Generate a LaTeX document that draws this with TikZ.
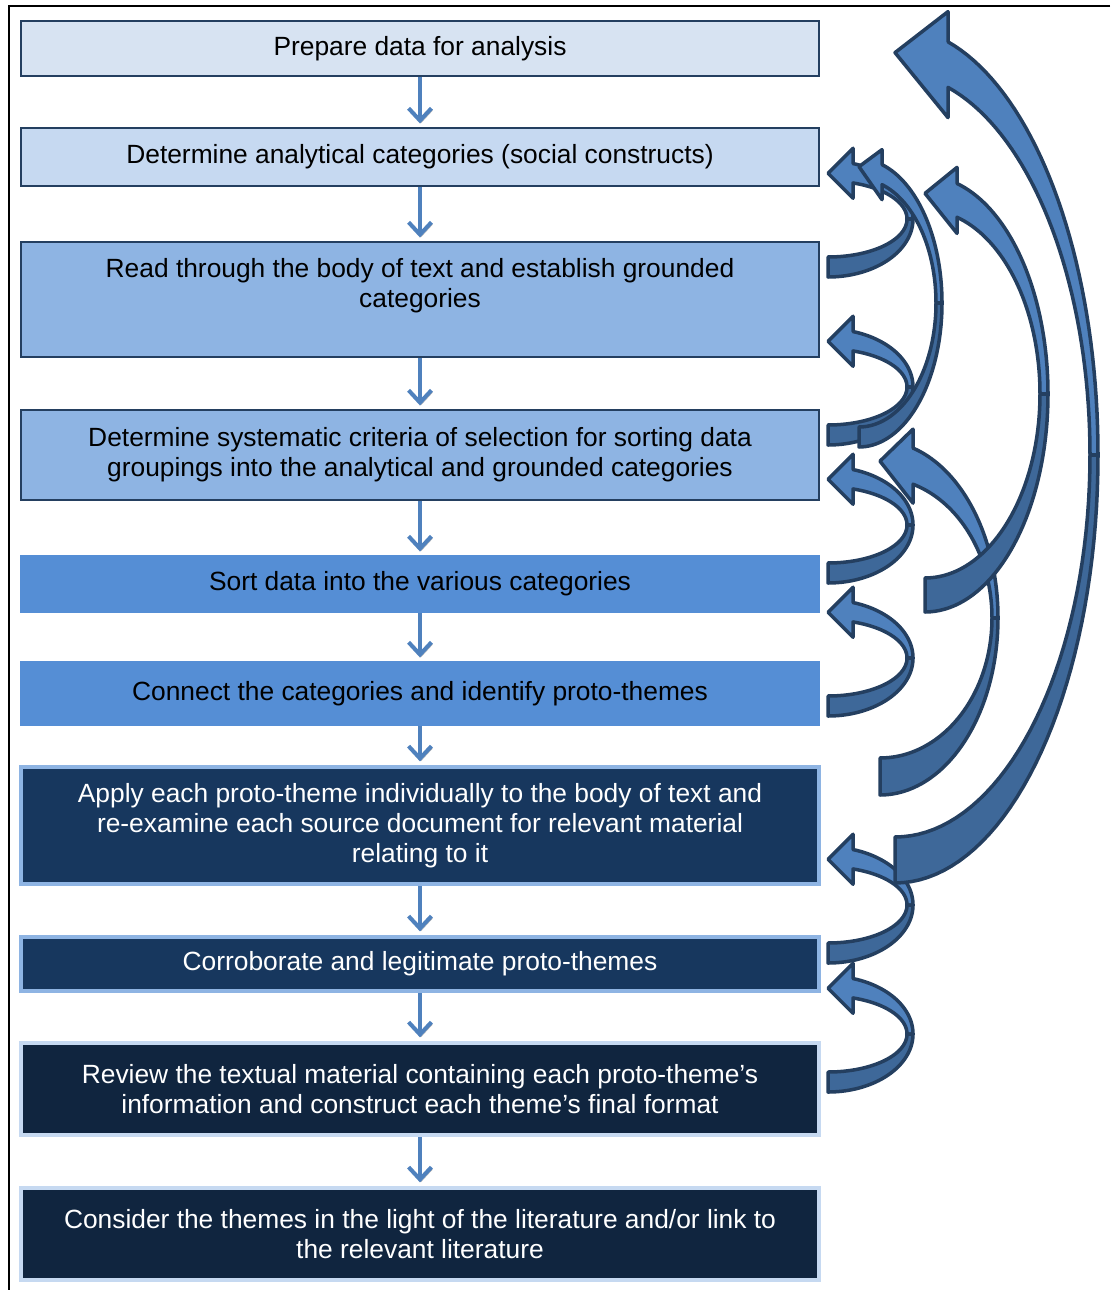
\documentclass[tikz,border=0pt]{standalone}
\usepackage{fontspec}
\setmainfont{Liberation Sans}
\usetikzlibrary{arrows.meta}
\definecolor{navy}{RGB}{36,63,96}
\definecolor{pale-blue}{RGB}{215,227,242}
\definecolor{light-blue}{RGB}{198,217,241}
\definecolor{mid-blue}{RGB}{142,180,227}
\definecolor{bright-blue}{RGB}{85,142,213}
\definecolor{deep-blue}{RGB}{23,55,94}
\definecolor{dark-blue}{RGB}{16,37,63}
\definecolor{arrow-blue}{RGB}{79,129,189}
\definecolor{shade-blue}{RGB}{62,104,153}

% curved feedback arrow: cx, cy, outer rx, outer ry, inner rx, inner ry, head length, head half width, tip lift
\newcommand{\bendarrow}[9]{%
  \pgfmathsetmacro{\baTo}{-acos(#7/#3)}%
  \pgfmathsetmacro{\baTi}{-acos(#7/#5)}%
  \pgfmathsetmacro{\baYo}{#2+#4*sin(\baTo)}%
  \pgfmathsetmacro{\baYi}{#2+#6*sin(\baTi)}%
  \pgfmathsetmacro{\baYm}{(\baYo+\baYi)/2}%
  \filldraw[bandfront] ({#1+#7},\baYo)
    -- plot[domain=\baTo:0,samples=40] ({#1+#3*cos(\x)},{#2+#4*sin(\x)})
    -- plot[domain=0:\baTi,samples=40] ({#1+#5*cos(\x)},{#2+#6*sin(\x)})
    -- ({#1+#7},{\baYm+#8}) -- (#1,{\baYm-#9}) -- ({#1+#7},{\baYm-#8}) -- cycle;
  \filldraw[bandback] ({#1+#3},#2)
    -- plot[domain=0:90,samples=40] ({#1+#3*cos(\x)},{#2+#4*sin(\x)})
    -- (#1,{#2+#6})
    -- plot[domain=90:0,samples=40] ({#1+#5*cos(\x)},{#2+#6*sin(\x)}) -- cycle;
}

\begin{document}
\begin{tikzpicture}
[
  x=0.02cm, y=-0.02cm,
  box/.style={rectangle, minimum width=15.96cm, inner sep=0pt, align=center, font=\fontsize{15}{17}\selectfont},
  lightbox/.style={box, draw=navy, line width=1.1pt},
  brightbox/.style={box, draw=bright-blue, fill=bright-blue, line width=1.1pt},
  deepbox/.style={box, fill=deep-blue, draw=mid-blue, line width=2.4pt, text=white},
  darkbox/.style={box, fill=dark-blue, draw=light-blue, line width=2.4pt, text=white},
  down/.style={draw=arrow-blue, line width=2.3pt, -{Straight Barb[length=7pt,width=13pt]}, shorten >=2pt,
    preaction={draw=black!30, transform canvas={shift={(0.6pt,-1.2pt)}}}},
  bandfront/.style={fill=arrow-blue, draw=navy, line width=2pt, line join=round},
  bandback/.style={fill=shade-blue, draw=navy, line width=2pt, line join=round},
]
\useasboundingbox (0,0) rectangle (1110,1290);
\draw[line width=1.2pt] (1110,6) -- (9,6) -- (9,1290);

\node[lightbox,fill=pale-blue,minimum height=1.1cm] (prep) at (420,48.5) {Prepare data for analysis};
\node[lightbox,fill=light-blue,minimum height=1.16cm] (anal) at (420,157) {Determine analytical categories (social constructs)};
\node[lightbox,fill=mid-blue,minimum height=2.3cm] (read) at (420,299.5) {};
\node[box,minimum width=0pt] (readtext) at (420,286) {Read through the body of text and establish grounded\\categories};
\node[lightbox,fill=mid-blue,minimum height=1.8cm] (crit) at (420,455) {Determine systematic criteria of selection for sorting data\\groupings into the analytical and grounded categories};
\node[brightbox,minimum height=1.12cm] (sort) at (420,584) {Sort data into the various categories};
\node[brightbox,minimum height=1.26cm] (conn) at (420,693.5) {Connect the categories and identify proto-themes};
\node[deepbox,minimum height=2.34cm] (apply) at (420,825.5) {Apply each proto-theme individually to the body of text and\\re-examine each source document for relevant material\\relating to it};
\node[deepbox,minimum height=1.08cm] (corr) at (420,964) {Corroborate and legitimate proto-themes};
\node[darkbox,minimum height=1.84cm] (review) at (420,1089) {Review the textual material containing each proto-theme’s\\information and construct each theme’s final format};
\node[darkbox,minimum height=1.84cm] (cons) at (420,1234) {Consider the themes in the light of the literature and/or link to\\the relevant literature};

\foreach \a/\b in {prep/anal, anal/read, read/crit, crit/sort, sort/conn, conn/apply, apply/corr, corr/review, review/cons}
  \draw[down] (\a.south) -- (\b.north);

% feedback loops
\bendarrow{880}{618}{118}{177}{112}{140}{33}{37}{5}
\foreach \cy in {219,387,525,658,905,1034}{
  \bendarrow{828}{\cy}{85}{58}{79}{38}{25}{25}{0}
}
\bendarrow{925}{394}{123}{218}{115}{184}{32}{33}{7}
\bendarrow{859}{303}{83}{144}{77}{124}{23}{25}{8}
\bendarrow{895}{455}{203}{428}{195}{382}{53}{53}{12}
\end{tikzpicture}
\end{document}
